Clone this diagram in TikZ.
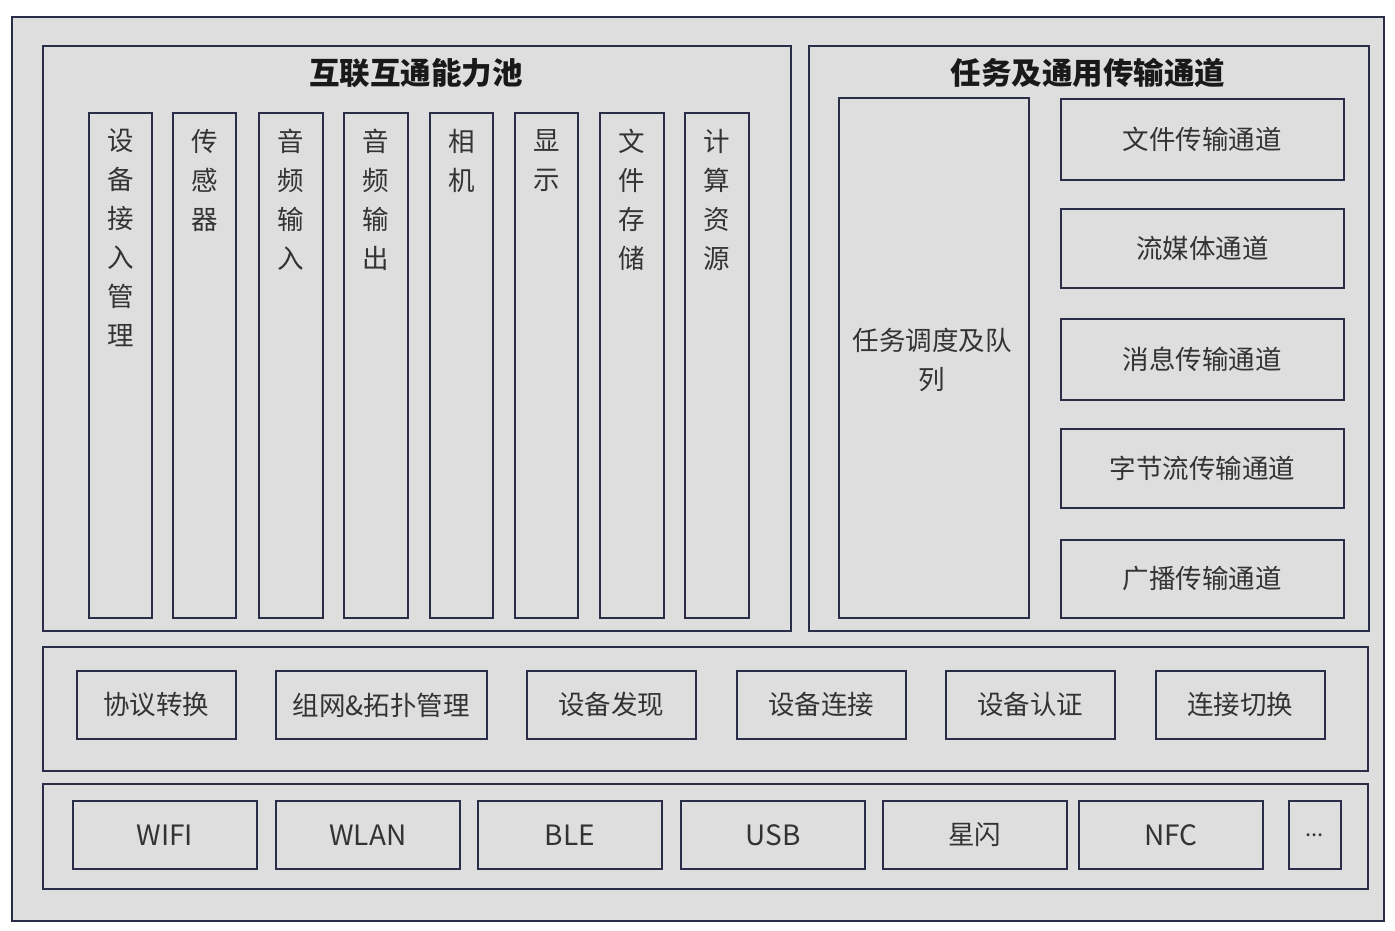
\documentclass[tikz,border=0pt]{standalone}
\usepackage{fontspec}
\setmainfont{Noto Sans CJK SC}
\begin{document}
\begin{tikzpicture}[x=1pt,y=-1pt,
  every node/.style={font=\fontsize{26.5}{39}\selectfont, text=black!80},
  frame/.style={draw=navy, line width=1.8pt, fill=bg, inner sep=0pt, anchor=north west},
  ttl/.style={font=\fontsize{30.5}{34}\selectfont\bfseries, text=black!90},
  lat/.style={font=\fontsize{28}{30}\selectfont},
]
\definecolor{navy}{HTML}{2A2D47}
\definecolor{bg}{HTML}{DEDEDF}
\newcommand\rbox[6]{\node[frame, minimum width={(#4-#2)*1pt}, minimum height={(#5-#3)*1pt}] (#1) at (#2,#3) {#6};}
\useasboundingbox (0,0) rectangle (1395,931);
\fill[white] (0,0) rectangle (1395,931);
% outer
\rbox{outer}{11}{16}{1383}{920}{}
% left pool
\rbox{pool}{42}{45}{790}{630}{}
\node[ttl] (pooltitle) at (416,73) {互联互通能力池};
\rbox{c1}{88}{112}{151}{617}{}
\rbox{c2}{172}{112}{235}{617}{}
\rbox{c3}{258}{112}{322}{617}{}
\rbox{c4}{343}{112}{407}{617}{}
\rbox{c5}{429}{112}{492}{617}{}
\rbox{c6}{514}{112}{577}{617}{}
\rbox{c7}{599}{112}{663}{617}{}
\rbox{c8}{684}{112}{748}{617}{}
\foreach \n/\t in {c1/{设\\备\\接\\入\\管\\理}, c2/{传\\感\\器}, c3/{音\\频\\输\\入}, c4/{音\\频\\输\\出}, c5/{相\\机}, c6/{显\\示}, c7/{文\\件\\存\\储}, c8/{计\\算\\资\\源}}
  \node[anchor=north, align=center, inner sep=0pt] (\n t) at ([yshift=-17pt]\n.north) {\t};
% right pool
\rbox{chan}{808}{45}{1368}{630}{}
\node[ttl] (chantitle) at (1088,73) {任务及通用传输通道};
\rbox{queue}{838}{97}{1028}{617}{}
\node[align=center, inner sep=0pt] (queuet) at (932,360) {任务调度及队\\列};
\rbox{r1}{1060}{98}{1343}{179}{}
\rbox{r2}{1060}{208}{1343}{287}{}
\rbox{r3}{1060}{318}{1343}{399}{}
\rbox{r4}{1060}{428}{1343}{507}{}
\rbox{r5}{1060}{539}{1343}{617}{}
\node (r1t) at (r1.center) {文件传输通道};
\node (r2t) at (r2.center) {流媒体通道};
\node (r3t) at (r3.center) {消息传输通道};
\node (r4t) at (r4.center) {字节流传输通道};
\node (r5t) at (r5.center) {广播传输通道};
% middle band
\rbox{mid}{42}{646}{1367}{770}{}
\rbox{m1}{76}{670}{235}{738}{协议转换}
\rbox{m2}{275}{670}{486}{738}{组网\&拓扑管理}
\rbox{m3}{526}{670}{695}{738}{设备发现}
\rbox{m4}{736}{670}{905}{738}{设备连接}
\rbox{m5}{945}{670}{1114}{738}{设备认证}
\rbox{m6}{1155}{670}{1324}{738}{连接切换}
% bottom band
\rbox{bot}{42}{783}{1367}{888}{}
\rbox{b1}{72}{800}{256}{868}{\fontsize{28}{30}\selectfont WIFI}
\rbox{b2}{275}{800}{459}{868}{\fontsize{28}{30}\selectfont WLAN}
\rbox{b3}{477}{800}{661}{868}{\fontsize{28}{30}\selectfont BLE}
\rbox{b4}{680}{800}{864}{868}{\fontsize{28}{30}\selectfont USB}
\rbox{b5}{882}{800}{1066}{868}{星闪}
\rbox{b6}{1078}{800}{1262}{868}{\fontsize{28}{30}\selectfont NFC}
\rbox{b7}{1288}{800}{1340}{868}{\fontsize{22}{24}\selectfont ...}
\end{tikzpicture}
\end{document}
